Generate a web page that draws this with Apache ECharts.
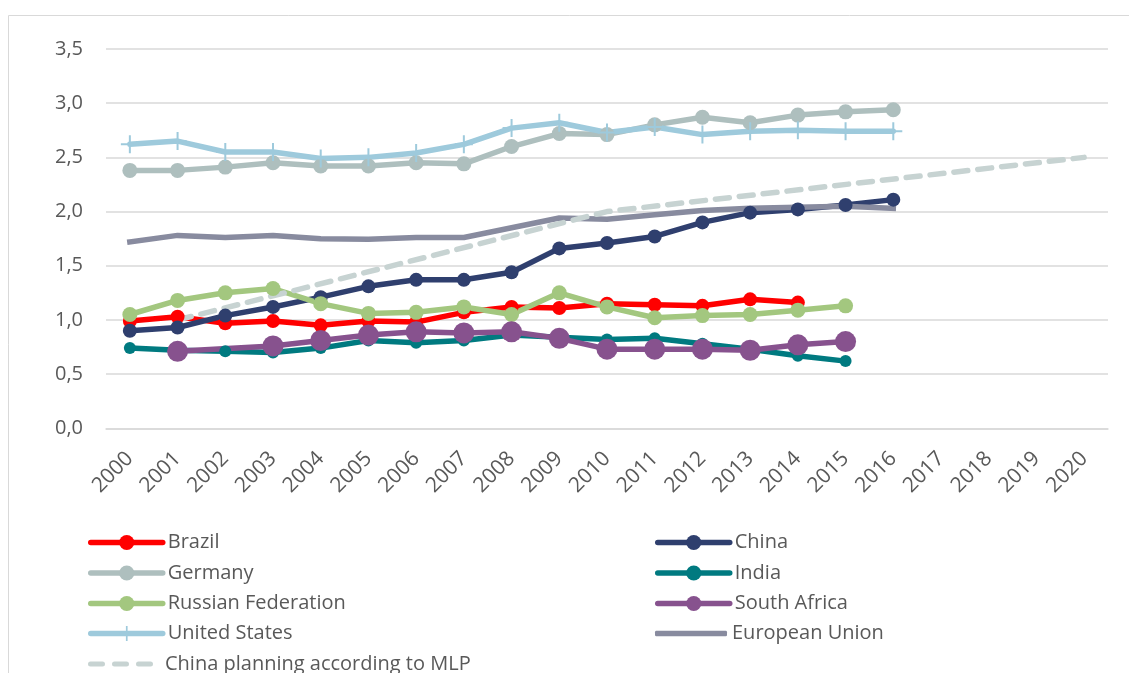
<!DOCTYPE html>
<html>
<head>
<meta charset="utf-8">
<script src="https://cdn.jsdelivr.net/npm/echarts@6/dist/echarts.min.js"></script>
<style>html,body{margin:0;padding:0;background:#fff;}#c{width:1129px;height:673px;}</style>
</head>
<body>
<div id="c"></div>
<script>
const years = ['2000','2001','2002','2003','2004','2005','2006','2007','2008','2009','2010','2011','2012','2013','2014','2015','2016','2017','2018','2019','2020'];
const brazil = [0.99,1.03,0.97,0.99,0.95,0.99,0.98,1.07,1.12,1.11,1.15,1.14,1.13,1.19,1.16];
const china = [0.90,0.93,1.04,1.12,1.21,1.31,1.37,1.37,1.44,1.66,1.71,1.77,1.90,1.99,2.02,2.06,2.11];
const germany = [2.38,2.38,2.41,2.45,2.42,2.42,2.45,2.44,2.60,2.72,2.71,2.80,2.87,2.82,2.89,2.92,2.94];
const india = [0.74,0.72,0.71,0.70,0.74,0.81,0.79,0.81,0.86,0.84,0.82,0.83,0.78,0.73,0.67,0.62];
const russia = [1.05,1.18,1.25,1.29,1.15,1.06,1.07,1.12,1.05,1.25,1.12,1.02,1.04,1.05,1.09,1.13];
const southAfrica = [null,0.71,null,0.76,0.81,0.86,0.89,0.88,0.89,0.83,0.73,0.73,0.73,0.72,0.77,0.80];
const unitedStates = [2.62,2.65,2.55,2.55,2.49,2.50,2.54,2.62,2.77,2.82,2.73,2.78,2.71,2.74,2.75,2.74,2.74];
const europeanUnion = [1.72,1.78,1.76,1.78,1.75,1.745,1.76,1.76,1.85,1.94,1.93,1.97,2.01,2.03,2.04,2.05,2.03];
const chinaMLP = [null,1.0,null,null,null,null,null,null,null,null,2.0,null,null,null,null,null,null,null,null,null,2.5];
const yTicks = {min:0, max:3.5, interval:0.5};
const legendLeftCol = ['Brazil','Germany','Russian Federation','United States','China planning according to MLP'];
const legendRightCol = ['China','India','South Africa','European Union'];

const FONT = '"Open Sans", "Noto Sans", sans-serif';
const TXT = '#595959';
const plus = 'path://M-1,-9 L1,-9 L1,-1 L9,-1 L9,1 L1,1 L1,9 L-1,9 L-1,1 L-9,1 L-9,-1 L-1,-1 Z';
const dashIcon = 'path://M2.5,0 H14.5 A2.5,2.5 0 0 1 14.5,5 H2.5 A2.5,2.5 0 0 1 2.5,0 Z M26.5,0 H38.5 A2.5,2.5 0 0 1 38.5,5 H26.5 A2.5,2.5 0 0 1 26.5,0 Z M50.5,0 H62.5 A2.5,2.5 0 0 1 62.5,5 H50.5 A2.5,2.5 0 0 1 50.5,0 Z';

function ser(name, data, color, symbol, size, extra) {
  return Object.assign({
    name, type:'line', data, symbol, symbolSize:size,
    showSymbol: symbol !== 'none',
    connectNulls:true,
    lineStyle:{color, width:5.5, cap:'round', join:'round'},
    itemStyle:{color},
    emphasis:{disabled:true},
    animation:false
  }, extra||{});
}

const rowCenters = [542, 572.5, 603, 633, 663.5];
const legends = [];
function addLegend(name, x, cy) {
  const base = {
    orient:'horizontal', left:x, top:cy-9.5, padding:0, itemGap:0,
    itemWidth:72, itemHeight:19,
    textStyle:{color:TXT, fontSize:20, fontFamily:FONT, lineHeight:19},
    lineStyle:{width:5.5, cap:'round'},
    data:[name]
  };
  if (name === 'European Union') {
    base.itemHeight = 5.5; base.top = cy - 9.5;
    base.textStyle = Object.assign({}, base.textStyle, {lineHeight:19});
    base.data = [{name, icon:'roundRect'}];
  }
  if (name === 'China planning according to MLP') {
    base.itemWidth = 65; base.itemHeight = 5.5;
    base.textStyle = Object.assign({}, base.textStyle, {padding:[0,0,0,7]});
    base.data = [{name, icon:dashIcon}];
  }
  legends.push(base);
}
legendLeftCol.forEach((n,i)=>addLegend(n, 88, rowCenters[i]));
legendRightCol.forEach((n,i)=>addLegend(n, 655, rowCenters[i]));

const chart = echarts.init(document.getElementById('c'), null, {renderer:'canvas'});
chart.setOption({
  animation:false,
  textStyle:{fontFamily:FONT},
  graphic:[{type:'rect', shape:{x:8.5,y:15.5,width:1300,height:900}, style:{fill:'none', stroke:'#D9D9D9', lineWidth:1}, silent:true, z:-1}],
  grid:{left:106, right:21, top:49, bottom:244.7, containLabel:false},
  xAxis:{
    type:'category', data:years, boundaryGap:true,
    axisLine:{show:true, lineStyle:{color:'#D9D9D9', width:1.5}},
    axisTick:{show:false},
    axisLabel:{rotate:45, color:TXT, fontSize:21, fontFamily:FONT, margin:27, interval:0},
    splitLine:{show:false}
  },
  yAxis:{
    type:'value', min:yTicks.min, max:yTicks.max, interval:yTicks.interval,
    axisLine:{show:false}, axisTick:{show:false},
    axisLabel:{color:TXT, fontSize:20, fontFamily:FONT, margin:23,
      formatter:v=>v.toFixed(1).replace('.',',')},
    splitLine:{lineStyle:{color:'#D9D9D9', width:1.5}}
  },
  legend:legends,
  series:[
    ser('Brazil', brazil, '#FF0000', 'circle', 14),
    ser('China', china, '#2F3F6E', 'circle', 14),
    ser('Germany', germany, '#AEBFBE', 'circle', 15),
    ser('India', india, '#007A80', 'circle', 12),
    ser('Russian Federation', russia, '#A3C77F', 'circle', 15),
    ser('South Africa', southAfrica, '#87528E', 'circle', 21),
    ser('United States', unitedStates, '#9ECADC', plus, 18),
    ser('European Union', europeanUnion, '#888B9F', 'none', 0, {lineStyle:{color:'#888B9F', width:5.5, cap:'square'}}),
    ser('China planning according to MLP', chinaMLP, '#C7D3D2', 'none', 0, {lineStyle:{color:'#C7D3D2', width:5.5, type:[14,10], cap:'round'}})
  ]
});
</script>
</body>
</html>
